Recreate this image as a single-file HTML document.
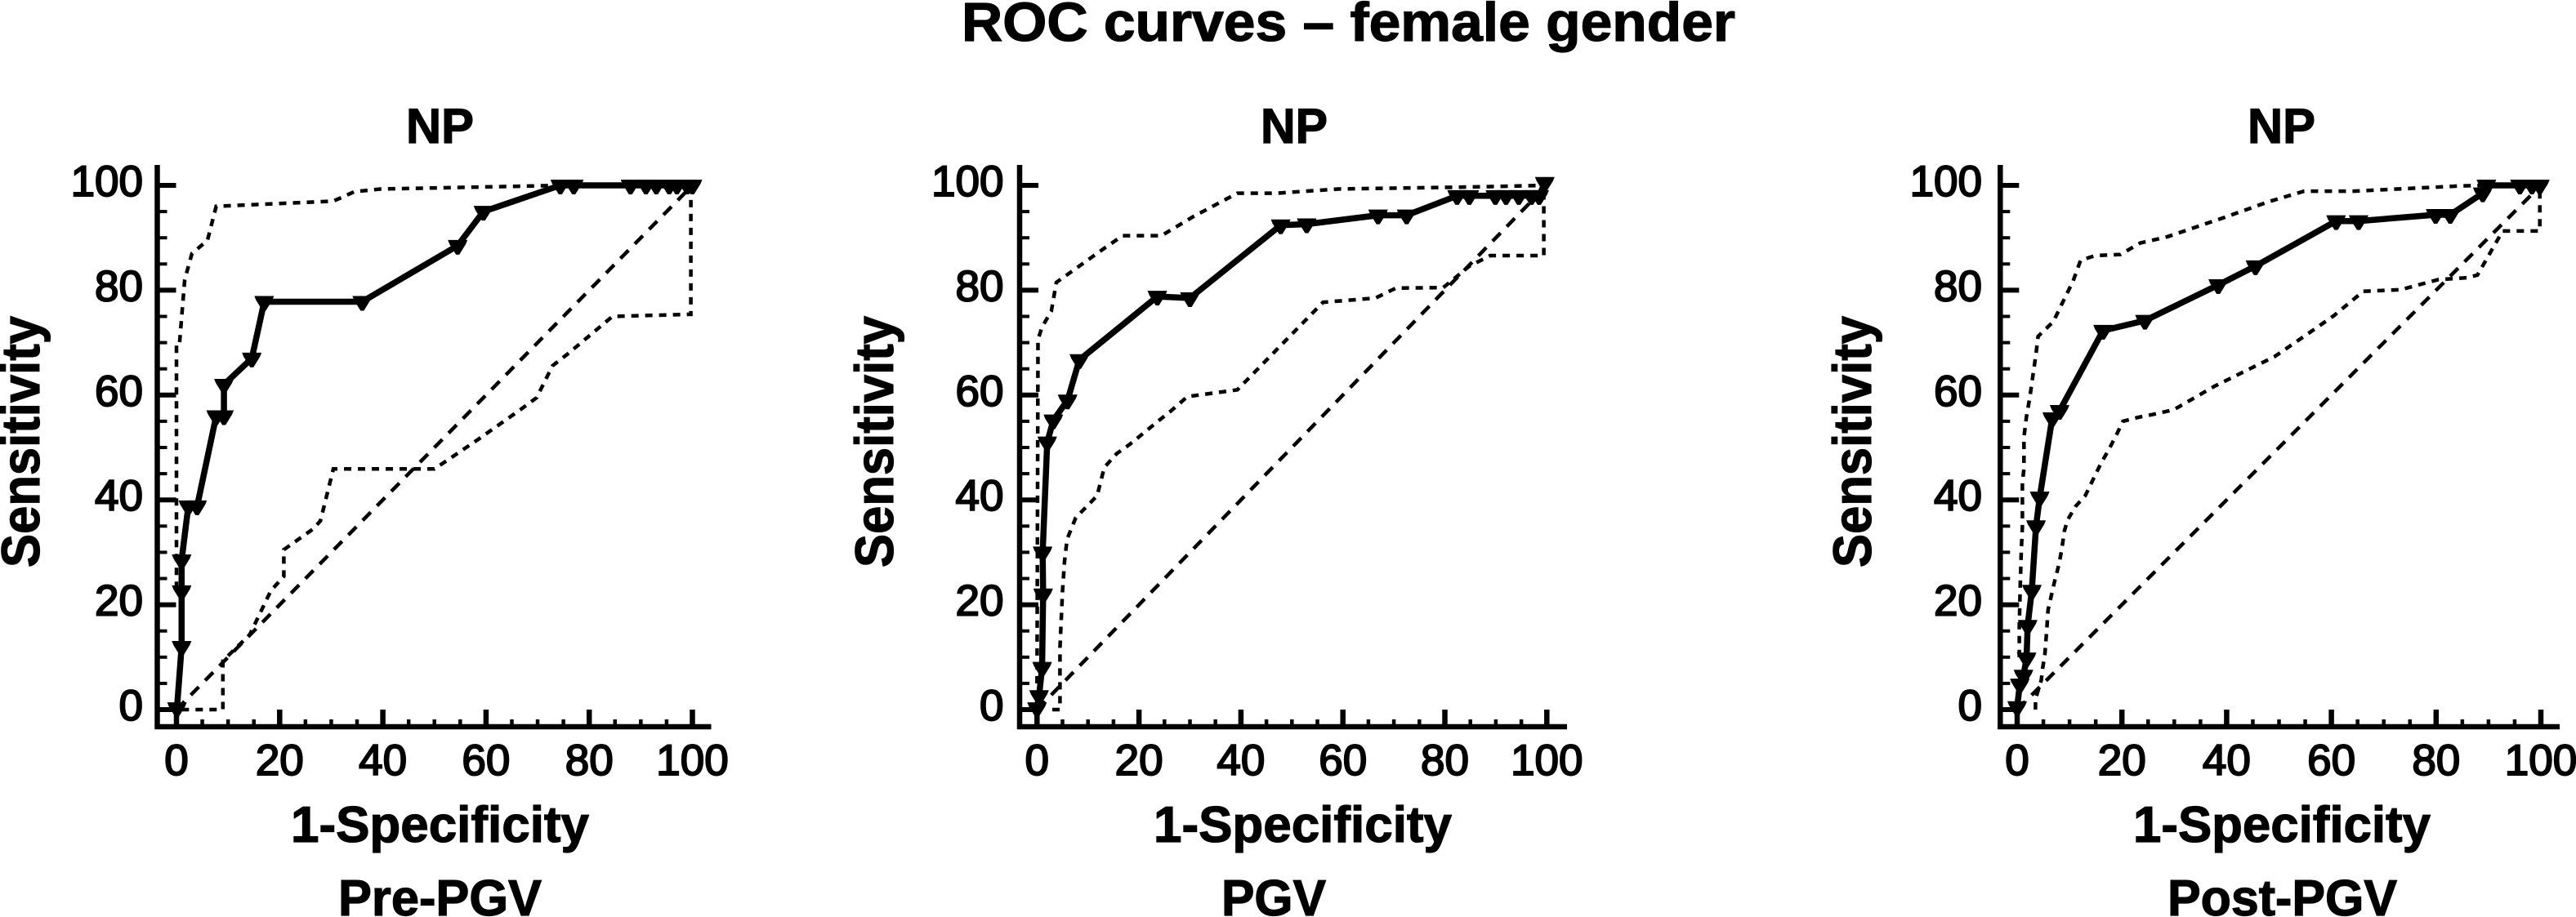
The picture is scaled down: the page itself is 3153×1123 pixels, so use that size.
<!DOCTYPE html>
<html>
<head>
<meta charset="utf-8">
<title>ROC curves – female gender</title>
<style>
html,body{margin:0;padding:0;background:#fff;width:3153px;height:1123px;overflow:hidden}
svg{display:block}
text{font-family:"Liberation Sans",Arial,sans-serif;fill:#000}
.t{font-weight:bold;stroke:#000;stroke-width:1.2px}
</style>
</head>
<body>
<svg id="chart" xmlns="http://www.w3.org/2000/svg" width="3153" height="1123" viewBox="0 0 3153 1123">
<rect x="0" y="0" width="3153" height="1123" fill="#fff"/>
<text class="t" x="1177" y="50" font-size="67" textLength="947" lengthAdjust="spacingAndGlyphs">ROC curves – female gender</text>

<text class="t" x="497" y="175" font-size="60" textLength="83" lengthAdjust="spacingAndGlyphs">NP</text>
<text class="t" x="1543" y="175" font-size="60" textLength="82" lengthAdjust="spacingAndGlyphs">NP</text>
<text class="t" x="2751" y="175" font-size="60" textLength="83" lengthAdjust="spacingAndGlyphs">NP</text>

<text class="t" transform="translate(48 695) rotate(-90)" font-size="66" textLength="308" lengthAdjust="spacingAndGlyphs">Sensitivity</text>
<text class="t" transform="translate(1093 695) rotate(-90)" font-size="66" textLength="308" lengthAdjust="spacingAndGlyphs">Sensitivity</text>
<text class="t" transform="translate(2290 695) rotate(-90)" font-size="66" textLength="308" lengthAdjust="spacingAndGlyphs">Sensitivity</text>

<text class="t" x="356" y="1031" font-size="62" textLength="365" lengthAdjust="spacingAndGlyphs">1-Specificity</text>
<text class="t" x="1412" y="1031" font-size="62" textLength="365" lengthAdjust="spacingAndGlyphs">1-Specificity</text>
<text class="t" x="2611" y="1031" font-size="62" textLength="364" lengthAdjust="spacingAndGlyphs">1-Specificity</text>

<text class="t" x="414" y="1121" font-size="62" textLength="249" lengthAdjust="spacingAndGlyphs">Pre-PGV</text>
<text class="t" x="1495" y="1121" font-size="62" textLength="128" lengthAdjust="spacingAndGlyphs">PGV</text>
<text class="t" x="2653" y="1121" font-size="62" textLength="281" lengthAdjust="spacingAndGlyphs">Post-PGV</text>
</svg>

<script>
// Shared axis data
const axisTickLabels = [0, 20, 40, 60, 80, 100];
const minorTickValues = [5, 10, 15, 25, 30, 35, 45, 50, 55, 65, 70, 75, 85, 90, 95];
const chanceX = [0, 100];
const chanceY = [0, 100];

// Panel 1: Pre-PGV
const prePointsX = [0.1, 1, 1, 1, 2.3, 4, 7.7, 9.2, 9.2, 14.6, 17, 36, 54.5, 59.5, 74.4, 77, 88, 91, 93, 95.5, 97, 99, 100];
const prePointsY = [0.3, 12, 22.6, 28.5, 38.8, 38.8, 56, 56, 62, 67, 77.8, 77.8, 88.5, 95, 100, 100, 100, 100, 100, 100, 100, 100, 100];
const preUpperX = [0, 0, 0.6, 1.6, 3, 6, 7.7, 30.4, 34.5, 39.5, 75, 100];
const preUpperY = [23, 70, 70, 82, 87, 89.5, 96, 97, 98.8, 99.3, 100, 100];
const preLowerX = [1, 9, 9, 14.2, 18.3, 20.8, 20.8, 26.4, 27.9, 30.4, 50, 58.7, 66.8, 69.8, 72.9, 75.9, 84.5, 99.7, 99.7];
const preLowerY = [0, 0, 9.3, 14.3, 22.7, 25.4, 30.5, 34.4, 36, 45.9, 45.9, 51.7, 57.3, 59.5, 65.6, 67.9, 75, 75.4, 100];

// Panel 2: PGV
const pgvPointsX = [0, 0.4, 1, 1.2, 1.1, 2, 3.2, 6, 8.3, 23.6, 30, 47.8, 52.9, 66.9, 72.5, 82.4, 84.8, 89.9, 92, 94.5, 97, 98.5, 99.6];
const pgvPointsY = [0.3, 2.6, 8, 22, 30, 51, 55.2, 59, 66.7, 78.8, 78.5, 92.4, 92.6, 94.3, 94.3, 98, 98, 98, 98, 98, 98, 98, 100.5];
const pgvUpperX = [0, 0.2, 1, 2.8, 3.8, 13.2, 16.8, 24.4, 30.6, 39.3, 47, 59, 85.8, 100];
const pgvUpperY = [5, 70.6, 73, 76, 81.5, 88, 90.4, 90.4, 94, 98.5, 98.5, 99.3, 99.7, 100];
const pgvLowerX = [3, 4.5, 4.5, 5, 5.4, 5.9, 7.6, 11.8, 12.6, 13.2, 15.6, 18.2, 24.1, 26.3, 29.5, 39.3, 56.1, 66.4, 70.4, 79.7, 84.8, 88.9, 99.4, 99.4];
const pgvLowerY = [0, 0, 11.8, 22.6, 28.3, 32.5, 36.6, 40.8, 43.9, 46.2, 48.8, 50.6, 55.3, 57, 59.7, 61, 77.7, 78.5, 80.4, 80.5, 84.6, 86.6, 86.6, 99.7];

// Panel 3: Post-PGV
const postPointsX = [0, 0.5, 1.2, 1.8, 2, 2.8, 3.6, 4.3, 6.7, 8.1, 16.4, 24.4, 38.4, 45.5, 60.9, 65.2, 79.9, 82.7, 88.9, 89.6, 96, 98.3, 99.8];
const postPointsY = [0.5, 4.8, 6.5, 9.8, 16, 22.7, 35, 40.5, 55.6, 57, 72.3, 74.2, 81, 84.6, 93.2, 93.2, 94.4, 94.4, 98.5, 100, 100, 100, 100];
const postUpperX = [0.4, 0.4, 0.6, 0.8, 1, 1, 1.3, 1.3, 1.8, 2.4, 3.6, 4, 6.9, 10.7, 12.1, 14.9, 19.7, 23.5, 28.7, 39.6, 48.1, 54.8, 64.2, 85, 90.8, 99.8];
const postUpperY = [10, 15.9, 24, 30.5, 35, 43.4, 45.9, 52, 56, 59.5, 67.9, 71.2, 74, 81.8, 85.7, 86.6, 86.8, 89, 90.2, 93.9, 96.9, 98.9, 98.9, 99.9, 100, 100];
const postLowerX = [3.5, 3.5, 4.6, 4.9, 5.3, 5.7, 5.9, 6.6, 7.2, 8, 8.5, 9, 9.6, 11.1, 13, 14.5, 16, 17.5, 19.1, 20.2, 23.3, 25.9, 29, 30.1, 37.7, 49.1, 54.8, 60.4, 66.1, 73.2, 80.3, 86, 87.9, 92.7, 99.8, 99.8];
const postLowerY = [0, 2, 5.6, 8.1, 10.7, 15.9, 19, 22.1, 24.7, 27.8, 30.5, 34, 36.1, 38.7, 40.8, 43.9, 47, 49.6, 52.7, 55, 55.8, 56.3, 57, 57.3, 61.7, 67.3, 71.2, 75.1, 79.8, 80.1, 82, 82.4, 82.9, 91.3, 91.3, 99.7];

const NS = 'http://www.w3.org/2000/svg';
const svg = document.getElementById('chart');

function make(tag, attrs) {
  const el = document.createElementNS(NS, tag);
  for (const k in attrs) el.setAttribute(k, attrs[k]);
  svg.appendChild(el);
  return el;
}

function drawPanel(p) {
  const sx = v => p.x0 + v * p.xUnit;
  const sy = v => 869 - v * 6.42;
  const pairs = (xs, ys) => xs.map((v, i) => sx(v).toFixed(1) + ',' + sy(ys[i]).toFixed(1)).join(' ');
  const key = p.key;

  // Reference and confidence curves
  const diag = make('polyline', {points: pairs(chanceX, chanceY), fill: 'none', stroke: '#000', 'stroke-width': 4.5, 'stroke-dasharray': '14 11'});
  
  

  const upper = make('polyline', {points: pairs(p.upperX, p.upperY), fill: 'none', stroke: '#000', 'stroke-width': 4.5, 'stroke-dasharray': '9 8'});
  
  

  const lower = make('polyline', {points: pairs(p.lowerX, p.lowerY), fill: 'none', stroke: '#000', 'stroke-width': 4.5, 'stroke-dasharray': '9 8'});
  
  

  // Axes
  const yAxis = make('line', {x1: p.axisX, x2: p.axisX, y1: 202, y2: 893, stroke: '#000', 'stroke-width': 6.5});
  
  

  const xAxis = make('line', {x1: p.axisX - 3, x2: p.axisEnd, y1: 890, y2: 890, stroke: '#000', 'stroke-width': 6.5});
  
  

  minorTickValues.forEach(v => {
    const ty = make('line', {x1: p.axisX, x2: p.axisX + 12, y1: sy(v), y2: sy(v), stroke: '#000', 'stroke-width': 4});
    
    
    const tx = make('line', {x1: sx(v), x2: sx(v), y1: 890, y2: 881, stroke: '#000', 'stroke-width': 4.5});
    
    
  });

  axisTickLabels.forEach(v => {
    const ty = make('line', {x1: p.axisX, x2: p.axisX + 23, y1: sy(v), y2: sy(v), stroke: '#000', 'stroke-width': 6});
    
    
    const tx = make('line', {x1: sx(v), x2: sx(v), y1: 890, y2: 869, stroke: '#000', 'stroke-width': 6.5});
    
    

    const ly = make('text', {x: p.labelRight, y: sy(v) + 13, 'font-size': 53, 'text-anchor': 'end', stroke: '#000', 'stroke-width': 2});
    
    
    ly.textContent = v;

    const lx = make('text', {x: sx(v), y: 949, 'font-size': 53, 'text-anchor': 'middle', stroke: '#000', 'stroke-width': 2});
    
    
    lx.textContent = v;
  });

  // ROC curve and its markers
  const roc = make('polyline', {points: pairs(p.pointsX, p.pointsY), fill: 'none', stroke: '#000', 'stroke-width': 7.5, 'stroke-linejoin': 'round'});
  
  

  p.pointsX.forEach((v, i) => {
    const cx = sx(v), cy = sy(p.pointsY[i]);
    const tri = make('polygon', {points: (cx - 12) + ',' + (cy - 7) + ' ' + (cx + 12) + ',' + (cy - 7) + ' ' + (cx + 10) + ',' + (cy - 2) + ' ' + (cx + 2) + ',' + (cy + 11) + ' ' + (cx - 2) + ',' + (cy + 11) + ' ' + (cx - 10) + ',' + (cy - 2), fill: '#000'});
    
    
  });
}

drawPanel({key: 'panel-1', x0: 216, xUnit: 6.315, axisX: 192.5, axisEnd: 870.5, labelRight: 175,
  pointsX: prePointsX, pointsY: prePointsY, upperX: preUpperX, upperY: preUpperY, lowerX: preLowerX, lowerY: preLowerY});
drawPanel({key: 'panel-2', x0: 1269.3, xUnit: 6.24, axisX: 1248, axisEnd: 1918, labelRight: 1228.5,
  pointsX: pgvPointsX, pointsY: pgvPointsY, upperX: pgvUpperX, upperY: pgvUpperY, lowerX: pgvLowerX, lowerY: pgvLowerY});
drawPanel({key: 'panel-3', x0: 2469, xUnit: 6.41, axisX: 2448.3, axisEnd: 3133, labelRight: 2426,
  pointsX: postPointsX, pointsY: postPointsY, upperX: postUpperX, upperY: postUpperY, lowerX: postLowerX, lowerY: postLowerY});
</script>
</body>
</html>
